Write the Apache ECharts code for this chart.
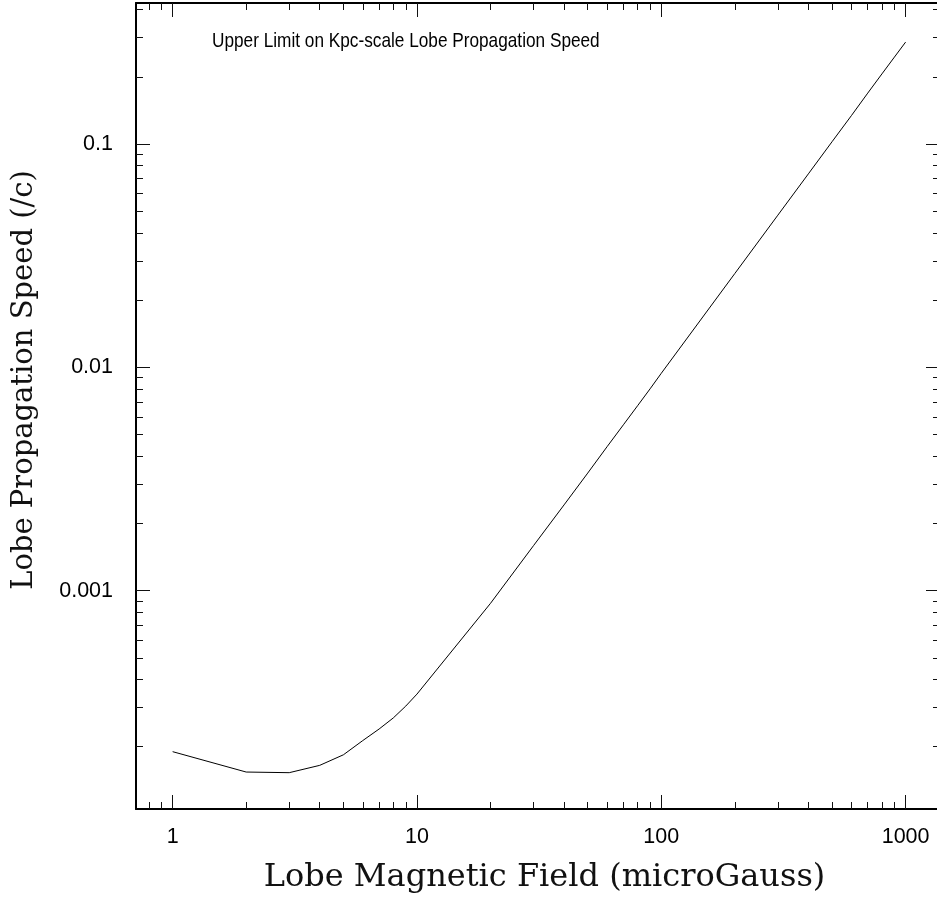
<!DOCTYPE html>
<html>
<head>
<meta charset="utf-8">
<script src="https://cdn.jsdelivr.net/npm/echarts@6/dist/echarts.min.js"></script>
<style>
html,body{margin:0;padding:0;background:#fff;}
#chart{width:937px;height:898px;}
</style>
</head>
<body>
<div id="chart"></div>
<script>
// Lobe magnetic field (microGauss)
var fieldValues = [1,2,3,4,5,6,7,8,9,10,20,30,40,50,60,70,80,90,100,200,300,400,500,600,700,800,900,1000];
// Upper limit on lobe propagation speed (/c)
var speedValues = [1.90e-4,1.54e-4,1.53e-4,1.65e-4,1.84e-4,2.13e-4,2.40e-4,2.69e-4,3.04e-4,3.44e-4,
                   8.77e-4,1.59e-3,2.42e-3,3.36e-3,4.41e-3,5.53e-3,6.73e-3,8.01e-3,9.40e-3,
                   2.63e-2,4.80e-2,7.35e-2,0.1024,0.134,0.169,0.206,0.245,0.286];

var xMajorTicks = [1,10,100,1000];
var xTickLabels = ['1','10','100','1000'];
var xMinorTicks = [0.8,0.9,2,3,4,5,6,7,8,9,20,30,40,50,60,70,80,90,200,300,400,500,600,700,800,900];
var yMajorTicks = [0.1,0.01,0.001];
var yTickLabels = ['0.1','0.01','0.001'];
var yMinorTicks = [0.2,0.3,0.4,0.02,0.03,0.04,0.05,0.06,0.07,0.08,0.09,
                   0.002,0.003,0.004,0.005,0.006,0.007,0.008,0.009,
                   0.0002,0.0003,0.0004,0.0005,0.0006,0.0007,0.0008,0.0009];

var xMin = 0.708, xMax = 1383;
var yMin = 1.052e-4, yMax = 0.428;

var titleText = 'Upper Limit on Kpc-scale Lobe Propagation Speed';
var xName = 'Lobe Magnetic Field (microGauss)';
var yName = 'Lobe Propagation Speed (/c)';

function labelFor(ticks, labels) {
  return function (v) {
    for (var i = 0; i < ticks.length; i++) {
      if (Math.abs(Math.log10(v) - Math.log10(ticks[i])) < 1e-6) return labels[i];
    }
    return '';
  };
}

function xAxisDef(pos, major, showLine, withLabel) {
  return {
    type: 'log', logBase: 10, min: xMin, max: xMax, position: pos,
    splitLine: {show: false},
    axisLine: {show: showLine, lineStyle: {color: '#000', width: 2}},
    axisTick: {show: true, inside: true, length: major ? 14 : 7,
               customValues: major ? xMajorTicks : xMinorTicks,
               lineStyle: {color: '#111', width: 1}},
    axisLabel: withLabel ? {
      show: true, customValues: xMajorTicks, formatter: labelFor(xMajorTicks, xTickLabels),
      fontFamily: 'Liberation Sans', fontSize: 21.5, color: '#000', margin: 17
    } : {show: false},
    name: withLabel ? xName : '',
    nameLocation: 'middle', nameGap: 53,
    nameTextStyle: {fontFamily: 'DejaVu Serif', fontSize: 32, color: '#111', padding: [0,0,0,13]}
  };
}
function yAxisDef(pos, major, showLine, withLabel) {
  return {
    type: 'log', logBase: 10, min: yMin, max: yMax, position: pos,
    splitLine: {show: false},
    axisLine: {show: showLine, lineStyle: {color: '#000', width: 2}},
    axisTick: {show: true, inside: true, length: major ? 14 : 7,
               customValues: major ? yMajorTicks : yMinorTicks,
               lineStyle: {color: '#111', width: 1}},
    axisLabel: withLabel ? {
      show: true, customValues: yMajorTicks, formatter: labelFor(yMajorTicks, yTickLabels),
      fontFamily: 'Liberation Sans', fontSize: 21.5, color: '#000', margin: 23
    } : {show: false},
    name: withLabel ? yName : '',
    nameLocation: 'middle', nameGap: 97, nameRotate: 90,
    nameTextStyle: {fontFamily: 'DejaVu Serif', fontSize: 29, color: '#111', padding: [0,0,0,52]}
  };
}

var chart = echarts.init(document.getElementById('chart'), null, {renderer: 'canvas'});
chart.setOption({
  animation: false,
  backgroundColor: '#fff',
  graphic: [{
    type: 'text', x: 212, y: 31, scaleX: 0.82, scaleY: 1,
    style: {text: titleText, font: '21px "Liberation Sans"', fill: '#000', verticalAlign: 'top', align: 'left'}
  }],
  grid: {left: 136, top: 3, width: 804, height: 806, containLabel: false, outerBoundsMode: 'none'},
  xAxis: [
    xAxisDef('bottom', true, true, true),
    xAxisDef('bottom', false, false, false),
    xAxisDef('top', true, true, false),
    xAxisDef('top', false, false, false)
  ],
  yAxis: [
    yAxisDef('left', true, true, true),
    yAxisDef('left', false, false, false),
    yAxisDef('right', true, true, false),
    yAxisDef('right', false, false, false)
  ],
  series: [{
    type: 'line',
    xAxisIndex: 0, yAxisIndex: 0,
    data: fieldValues.map(function (f, i) { return [f, speedValues[i]]; }),
    showSymbol: false, symbol: 'none', smooth: false,
    lineStyle: {color: '#000', width: 1}
  }]
});
</script>
</body>
</html>
